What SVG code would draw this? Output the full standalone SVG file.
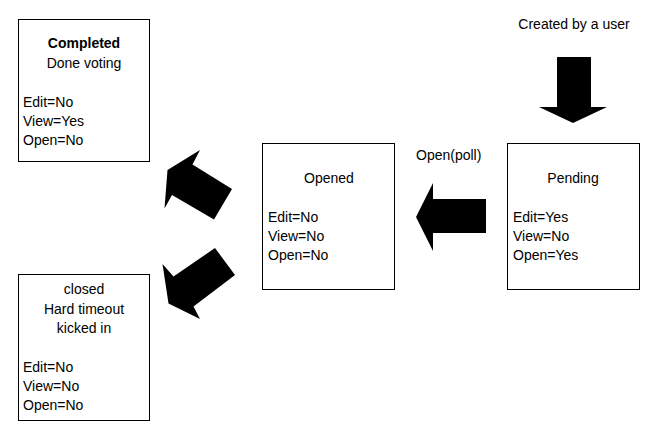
<svg xmlns="http://www.w3.org/2000/svg" width="661" height="435" viewBox="0 0 661 435">
<style>
.box{fill:#fff;stroke:#000;stroke-width:1}
text{font-family:"Liberation Sans",Arial,sans-serif;font-size:14px;fill:#000}
.c{text-anchor:middle}
.b{font-weight:bold}
.arrow{fill:#000;stroke:none}
</style>
<rect width="661" height="435" fill="#fff"/>
<g id="completed">
<rect class="box" x="18.5" y="19.5" width="131" height="142"/>
<text class="c b" x="84" y="48">Completed</text>
<text class="c" x="84" y="68">Done voting</text>
<text x="23" y="107">Edit=No</text>
<text x="23" y="126">View=Yes</text>
<text x="23" y="145">Open=No</text>
</g>
<g id="closed">
<rect class="box" x="18.5" y="274.5" width="131" height="146"/>
<text class="c" x="84" y="294">closed</text>
<text class="c" x="84" y="314">Hard timeout</text>
<text class="c" x="84" y="333">kicked in</text>
<text x="23" y="372">Edit=No</text>
<text x="23" y="391">View=No</text>
<text x="23" y="410">Open=No</text>
</g>
<g id="opened">
<rect class="box" x="262.5" y="143.5" width="132" height="146"/>
<text class="c" x="329" y="183">Opened</text>
<text x="268" y="222">Edit=No</text>
<text x="268" y="241">View=No</text>
<text x="268" y="260">Open=No</text>
</g>
<g id="pending">
<rect class="box" x="507.5" y="143.5" width="132" height="146"/>
<text class="c" x="573" y="183">Pending</text>
<text x="513" y="222">Edit=Yes</text>
<text x="513" y="241">View=No</text>
<text x="513" y="260">Open=Yes</text>
</g>
<g id="labels">
<text class="c" x="574" y="29">Created by a user</text>
<text x="416" y="160">Open(poll)</text>
</g>
<g id="connectors">
<polygon class="arrow" points="557,57 591,57 591,107 607,107 573,123 539,107 557,107"/>
<polygon class="arrow" points="486,199 433,199 433,183 416,217 433,251 433,233 486,233"/>
<polygon class="arrow" points="200,150 192.5,164.5 232,189 214,219.5 172,195 164.5,208.5 167.5,170"/>
<polygon class="arrow" points="215,248 235,275 193.5,306.5 200,319 168.5,303.5 162.5,264 173.5,276.5"/>
</g>
</svg>
